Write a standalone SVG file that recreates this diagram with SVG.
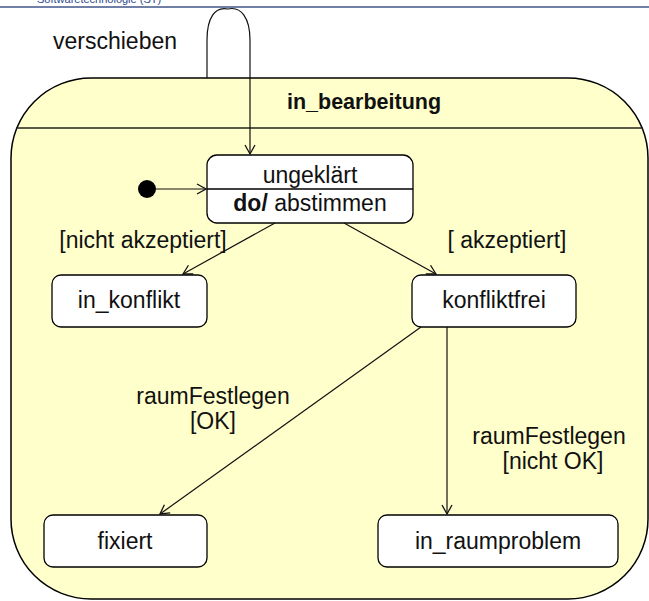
<svg xmlns="http://www.w3.org/2000/svg" width="649" height="601" viewBox="0 0 649 601">
<defs>
<style>
.t{font-family:"Liberation Sans",Arial,sans-serif;font-size:23px;fill:#111;}
.node{fill:#fff;stroke:#000;stroke-width:1.3;}
.conn{fill:none;stroke:#111;stroke-width:1.2;}
</style>
<marker id="arr" markerUnits="userSpaceOnUse" markerWidth="14" markerHeight="14" refX="10" refY="6" orient="auto">
<path d="M1,1 L10,6 L1,11" fill="none" stroke="#111" stroke-width="1.3"/>
</marker>
</defs>
<rect x="0" y="0" width="649" height="601" fill="#fff"/>
<text x="37" y="3" font-family="Liberation Sans,Arial,sans-serif" font-size="11" fill="#2e4a8c">Softwaretechnologie (ST)</text>
<line x1="0" y1="7" x2="649" y2="7" stroke="#6f7fa6" stroke-width="1.8"/>

<g id="in_bearbeitung">
<rect x="11" y="78" width="637" height="521" rx="80" ry="80" fill="#ffffcc" stroke="#000" stroke-width="1.5"/>
<line x1="16" y1="128" x2="643" y2="128" stroke="#222" stroke-width="1.5"/>
<text x="364" y="109" text-anchor="middle" font-family="Liberation Sans,Arial,sans-serif" font-size="21.5" font-weight="bold" fill="#111">in_bearbeitung</text>
</g>

<g id="initial">
<circle cx="147" cy="189" r="9" fill="#000"/>
</g>

<g id="ungeklaert">
<rect class="node" x="207" y="155" width="206" height="68" rx="10"/>
<line x1="207" y1="189" x2="413" y2="189" stroke="#000" stroke-width="1.3"/>
<text class="t" x="310" y="183" text-anchor="middle">ungeklärt</text>
<text class="t" x="310" y="211" text-anchor="middle"><tspan font-weight="bold">do/</tspan> abstimmen</text>
</g>

<g id="in_konflikt">
<rect class="node" x="52" y="275" width="155" height="52" rx="9"/>
<text class="t" x="129" y="308" text-anchor="middle">in_konflikt</text>
</g>

<g id="konfliktfrei">
<rect class="node" x="412" y="275" width="164" height="52" rx="9"/>
<text class="t" x="494" y="308" text-anchor="middle">konfliktfrei</text>
</g>

<g id="fixiert">
<rect class="node" x="44" y="515" width="163" height="52" rx="9"/>
<text class="t" x="125" y="549" text-anchor="middle">fixiert</text>
</g>

<g id="in_raumproblem">
<rect class="node" x="378" y="515" width="240" height="52" rx="9"/>
<text class="t" x="498" y="549" text-anchor="middle">in_raumproblem</text>
</g>

<g id="connectors">
<path class="conn" d="M207,78 L207,40 C207,18 215,6 228,9 C241,6 250,18 250,40 L250,154" marker-end="url(#arr)"/>
<line class="conn" x1="156" y1="189" x2="206" y2="189" marker-end="url(#arr)"/>
<line class="conn" x1="275" y1="223" x2="183" y2="274" marker-end="url(#arr)"/>
<line class="conn" x1="344" y1="223" x2="436" y2="274" marker-end="url(#arr)"/>
<line class="conn" x1="421" y1="327" x2="160" y2="514" marker-end="url(#arr)"/>
<line class="conn" x1="447" y1="327" x2="447" y2="514" stroke="#444" stroke-width="1.5" marker-end="url(#arr)"/>
<text class="t" x="115" y="49" text-anchor="middle">verschieben</text>
<text class="t" x="143" y="248" text-anchor="middle">[nicht akzeptiert]</text>
<text class="t" x="507" y="248" text-anchor="middle">[ akzeptiert]</text>
<text class="t" x="213" y="404" text-anchor="middle">raumFestlegen</text>
<text class="t" x="213" y="429" text-anchor="middle">[OK]</text>
<text class="t" x="549" y="444" text-anchor="middle">raumFestlegen</text>
<text class="t" x="553" y="469" text-anchor="middle">[nicht OK]</text>
</g>
</svg>
